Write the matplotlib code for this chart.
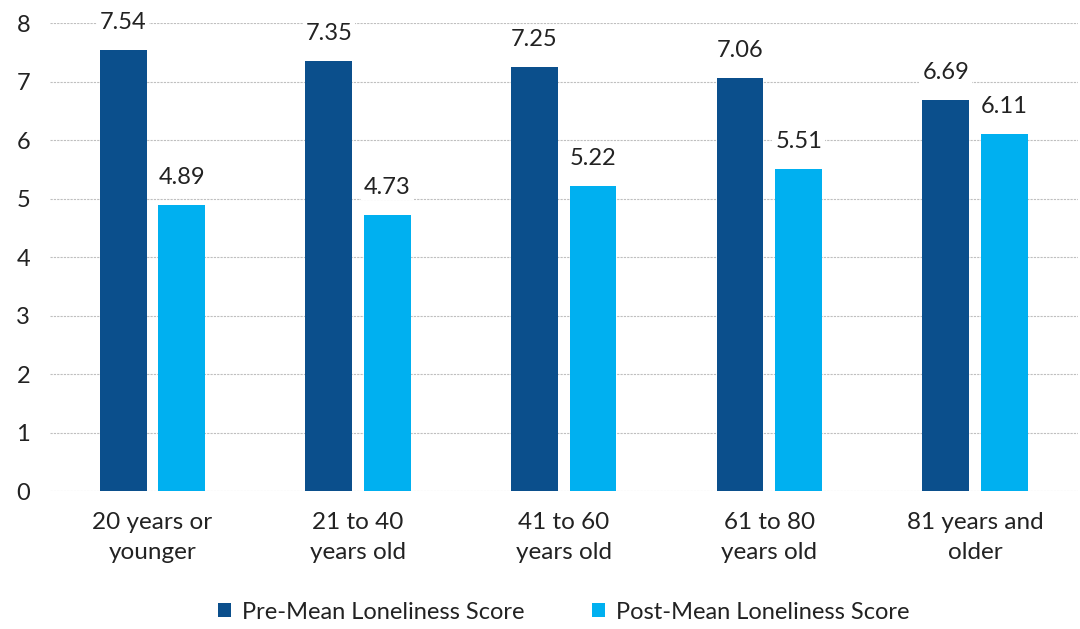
import matplotlib
matplotlib.use("Agg")
import matplotlib.pyplot as plt
import numpy as np

categories = ["20 years or\nyounger", "21 to 40\nyears old", "41 to 60\nyears old", "61 to 80\nyears old", "81 years and\nolder"]
pre_scores = [7.54, 7.35, 7.25, 7.06, 6.69]
post_scores = [4.89, 4.73, 5.22, 5.51, 6.11]
series_names = ["Pre-Mean Loneliness Score", "Post-Mean Loneliness Score"]
yticks = [0, 1, 2, 3, 4, 5, 6, 7, 8]

plt.rcParams['font.family'] = ['Lato', 'DejaVu Sans']

fig = plt.figure(figsize=(10.8, 6.29), dpi=100)
ax = fig.add_axes([0.046, 0.219, 0.952, 0.744])

x = np.arange(len(categories))
w = 0.227
gap = 0.058
off = (w + gap) / 2
c_pre = "#0B4F8C"
c_post = "#00B0F0"
fs = 17
b1 = ax.bar(x - off, pre_scores, w, color=c_pre, label=series_names[0], zorder=3)
b2 = ax.bar(x + off, post_scores, w, color=c_post, label=series_names[1], zorder=3)

for bars, vals in ((b1, pre_scores), (b2, post_scores)):
    for r, v in zip(bars, vals):
        ax.text(r.get_x() + r.get_width() / 2, v + 0.47, f"{v:.2f}", ha="center", va="center",
                fontsize=fs, color="#222222", zorder=4,
                bbox=dict(facecolor="white", edgecolor="none", pad=2))

ax.set_xlim(-0.5, len(categories) - 0.5)
ax.set_ylim(0, 8)
ax.set_yticks(yticks)
ax.set_xticks(x)
ax.set_xticklabels(categories, fontsize=17.5, color="#222222", linespacing=1.5)
ax.tick_params(axis="y", labelsize=fs, labelcolor="#222222", length=0, pad=14)
ax.tick_params(axis="x", length=0, pad=15)
for s in ax.spines.values():
    s.set_visible(False)
ax.yaxis.grid(True, color="#BFBFBF", linestyle=(0, (2, 1)), linewidth=0.8, zorder=0)
ax.set_axisbelow(True)

leg = fig.legend(handles=[b1, b2], labels=series_names, loc="center", bbox_to_anchor=(0.522, 0.027),
                 ncol=2, frameon=False, fontsize=fs, handlelength=0.55, handleheight=0.55,
                 handletextpad=0.45, columnspacing=2.9)
for t in leg.get_texts():
    t.set_color("#222222")

fig.savefig("out.png", dpi=100)
